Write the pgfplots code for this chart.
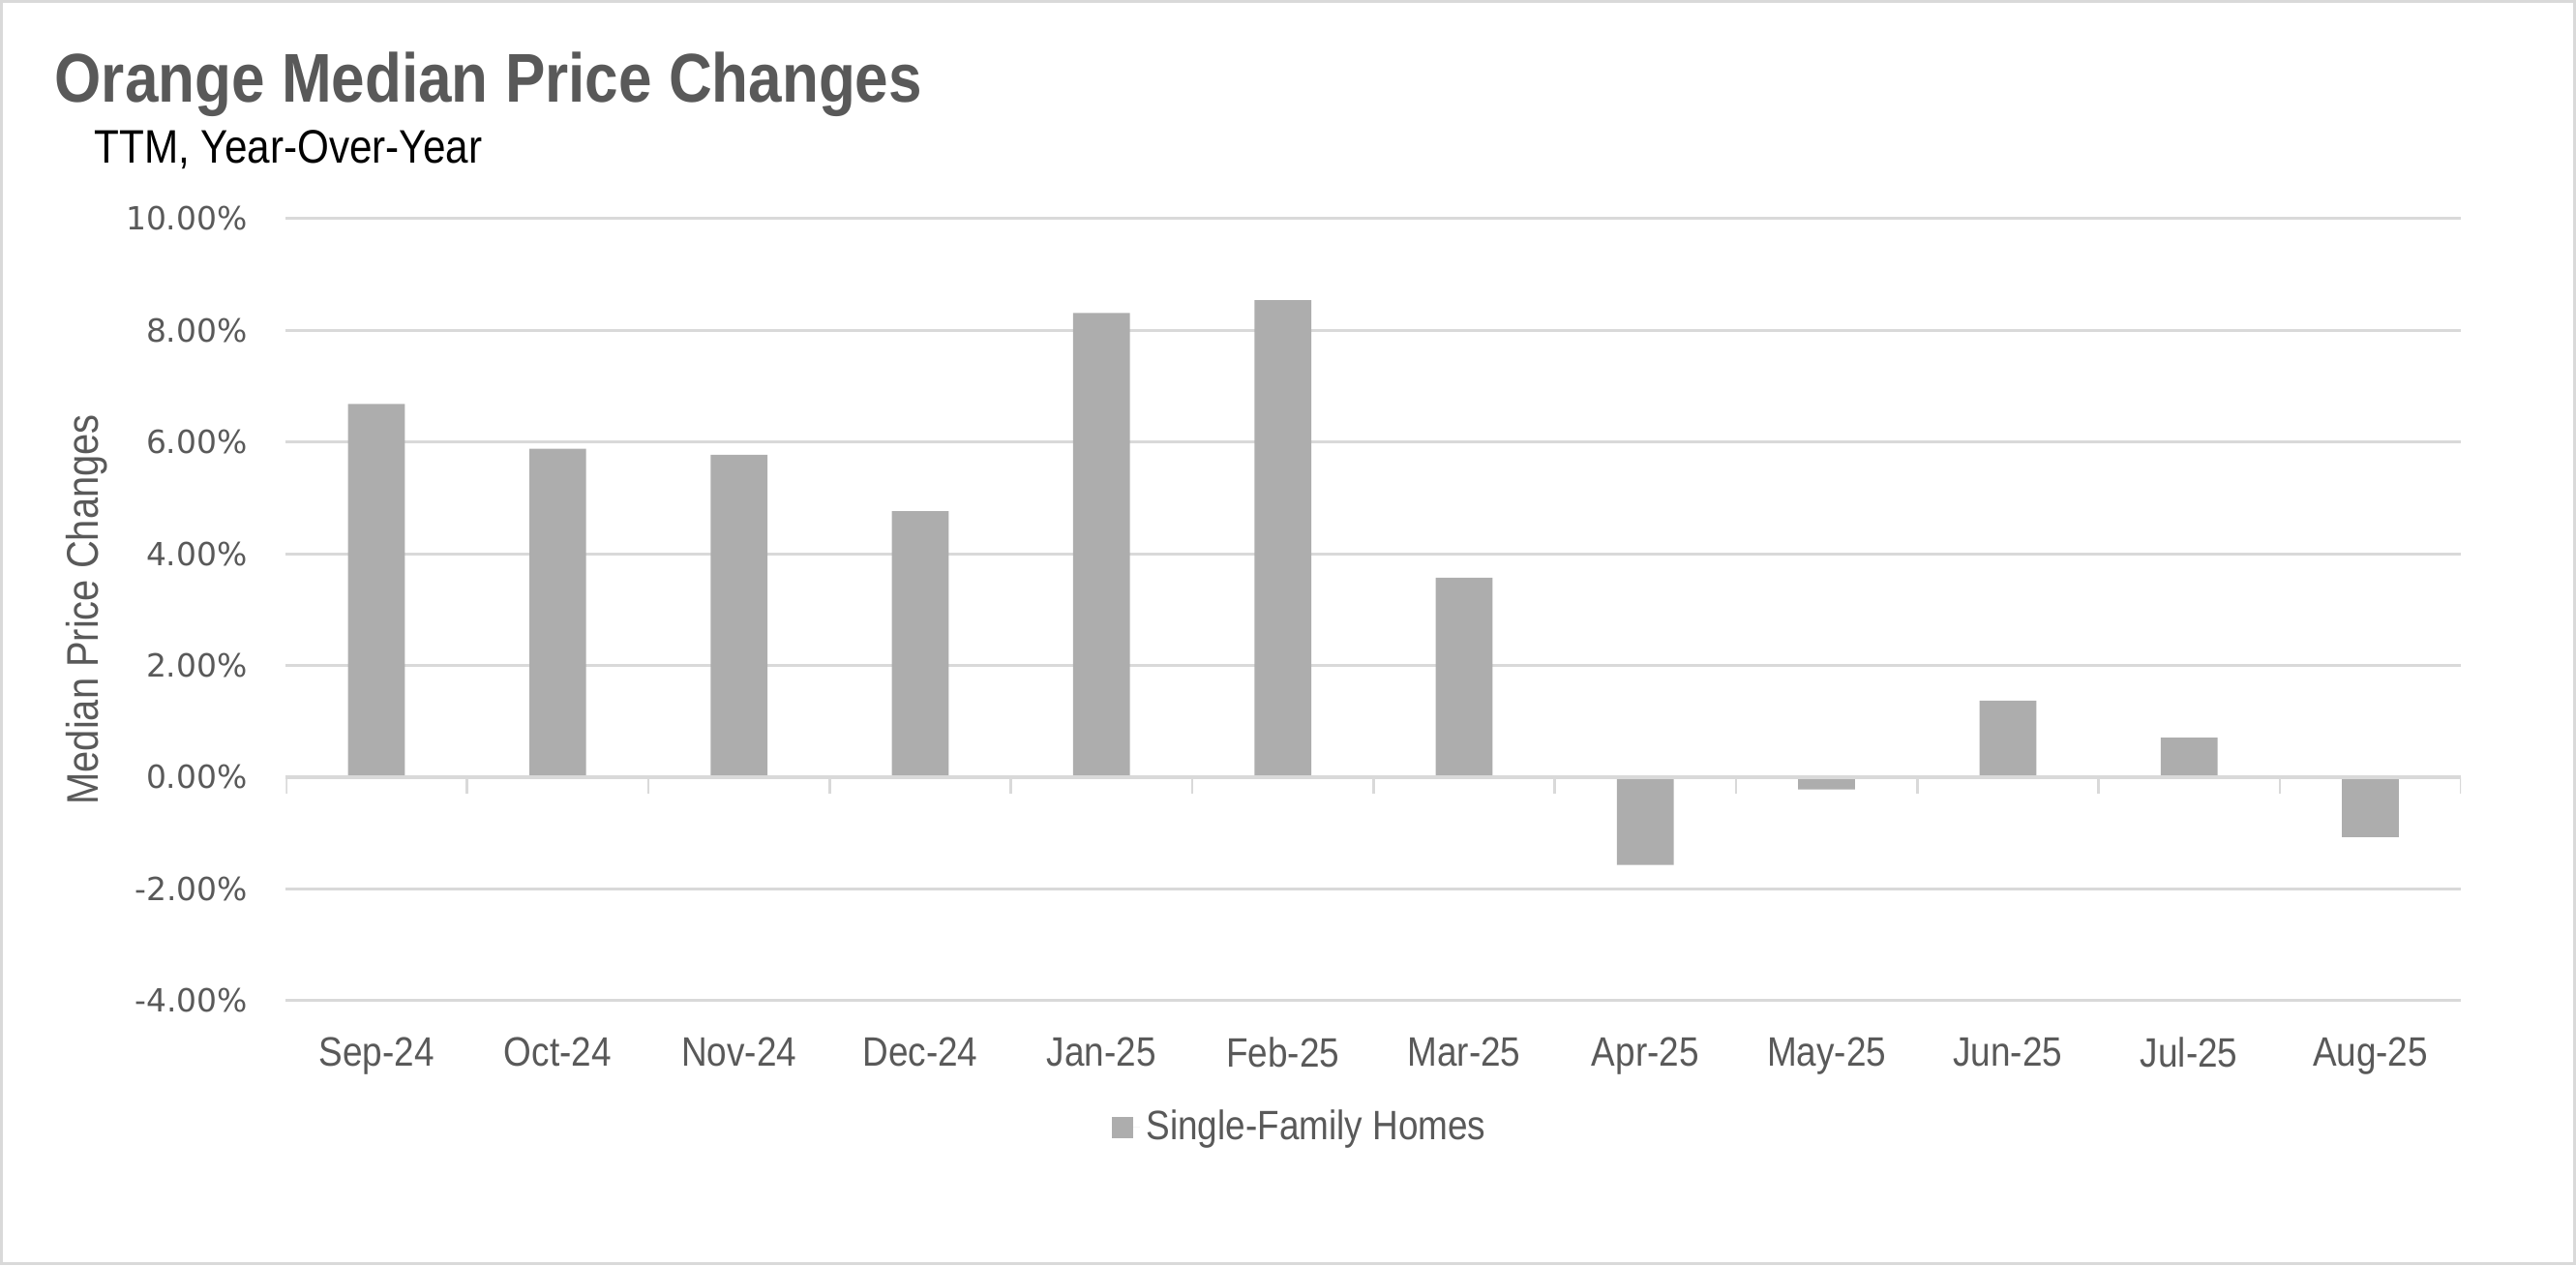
\documentclass[border=0pt]{standalone}
\usepackage{fontspec}
\setmainfont{Liberation Sans}[FakeStretch=0.87]
\newfontfamily\tickfont{DejaVu Sans}
\usepackage{pgfplots}
\usepackage{pgfplotstable}
\pgfplotsset{compat=1.18}

\definecolor{textgray}{HTML}{595959}
\definecolor{barcol}{HTML}{ADADAD}
\definecolor{gridcol}{HTML}{D9D9D9}

% TTM year-over-year median price change, single-family homes (%)
\pgfplotstableread{
idx val
0   6.68
1   5.88
2   5.77
3   4.76
4   8.31
5   8.54
6   3.57
7  -1.57
8  -0.22
9   1.37
10  0.71
11 -1.07
}\pricedata

\begin{document}
\begin{tikzpicture}
  % chart frame
  \draw[gridcol, line width=1pt] (0.5pt,0.5pt) rectangle (783.5pt,384.5pt);

  \node[anchor=base west, inner sep=0pt, text=textgray,
        font=\bfseries\fontsize{21}{25}\selectfont] at (16.5pt,354pt)
        {Orange Median Price Changes};
  \node[anchor=base west, inner sep=0pt, text=black,
        font=\fontsize{14.3}{17}\selectfont] at (28.5pt,335.25pt)
        {TTM, Year-Over-Year};

  \begin{axis}[
    at={(87pt,80.5pt)}, anchor=south west,
    scale only axis,
    width=662pt, height=238pt,
    xmin=-0.5, xmax=11.5,
    ymin=-4, ymax=10,
    ytick={-4,-2,...,10},
    xtick=data,
    xticklabels={Sep-24,Oct-24,Nov-24,Dec-24,Jan-25,Feb-25,Mar-25,Apr-25,May-25,Jun-25,Jul-25,Aug-25},
    axis line style={draw=none},
    major tick length=0pt,
    ymajorgrids=true,
    grid style={gridcol, line width=0.9pt},
    /pgf/number format/assume math mode=true,
    yticklabel={\pgfmathprintnumber[fixed,fixed zerofill,precision=2]{\tick}\%},
    yticklabel style={anchor=east, inner sep=0pt, xshift=-11.5pt, text=textgray,
                      font=\tickfont\fontsize{9.7}{11}\selectfont},
    xticklabel style={anchor=north, inner sep=0pt, yshift=-11pt, text=textgray,
                      font=\fontsize{12.5}{15}\selectfont},
    ylabel={Median Price Changes},
    ylabel style={at={(axis description cs:-0.0914,0.5)}, anchor=center, rotate=0,
                  text=textgray, font=\fontsize{13.5}{16}\selectfont},
    legend style={at={(0.4672,-0.1618)}, anchor=center, draw=none, fill=none,
                  text=textgray, font=\fontsize{12.5}{15}\selectfont,
                  inner sep=0pt},
    legend image code/.code={
      \fill[barcol] (0pt,-3.25pt) rectangle (6.5pt,3.25pt);
      \path (0pt,0pt) -- (8.5pt,0pt);
    },
  ]
    \addplot[ybar, bar width=17.3pt, fill=barcol, draw=none] table[x=idx, y=val] {\pricedata};
    \addlegendentry{Single-Family Homes}

    % zero line with category separators
    \draw[gridcol, line width=1pt] (axis cs:-0.5,0) -- (axis cs:11.5,0);
    \pgfplotsinvokeforeach{-0.5,0.5,1.5,2.5,3.5,4.5,5.5,6.5,7.5,8.5,9.5,10.5,11.5}{
      \draw[gridcol, line width=0.8pt] (axis cs:#1,0) -- ([yshift=-5pt]axis cs:#1,0);
    }
  \end{axis}
\end{tikzpicture}
\end{document}
